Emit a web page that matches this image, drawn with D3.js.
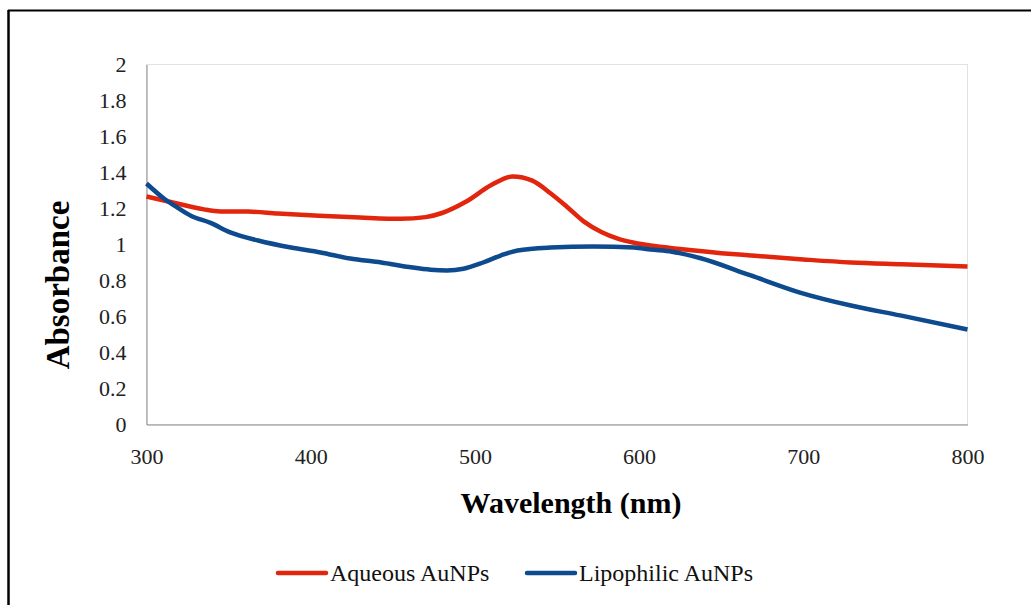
<!DOCTYPE html>
<html>
<head>
<meta charset="UTF-8">
<script src="https://d3js.org/d3.v7.min.js"></script>
<style>
  body { margin: 0; background: #fff; }
  svg { display: block; font-family: "Liberation Serif", "Times New Roman", serif; }
</style>
</head>
<body>
<svg width="1031" height="605"></svg>
<script>
// values
const yTicks = [0, 0.2, 0.4, 0.6, 0.8, 1, 1.2, 1.4, 1.6, 1.8, 2];
const xTicks = [300, 400, 500, 600, 700, 800];

const aqueousWl = [300, 320, 335, 345, 362, 380, 405, 430, 455, 470, 480, 495, 510, 523, 535, 546, 556, 566, 577, 587, 597, 607, 625, 650, 668, 700, 729, 760, 800];
const aqueousAbs = [1.267, 1.225, 1.195, 1.184, 1.183, 1.172, 1.16, 1.15, 1.143, 1.152, 1.175, 1.24, 1.33, 1.378, 1.355, 1.285, 1.21, 1.13, 1.07, 1.033, 1.01, 0.994, 0.975, 0.952, 0.939, 0.917, 0.9, 0.89, 0.878];

const lipoWl = [300, 310, 318, 327, 339, 351, 368, 388, 406, 424, 443, 460, 473, 483, 493, 505, 516, 526, 546, 572, 597, 607, 620, 637, 668, 698, 729, 759, 800];
const lipoAbs = [1.339, 1.26, 1.21, 1.16, 1.12, 1.067, 1.022, 0.983, 0.956, 0.922, 0.9, 0.875, 0.86, 0.856, 0.865, 0.9, 0.94, 0.967, 0.983, 0.989, 0.983, 0.972, 0.96, 0.925, 0.828, 0.733, 0.661, 0.606, 0.528];

const series = [
  {name: "Aqueous AuNPs", color: "#e2260e", x: aqueousWl, y: aqueousAbs},
  {name: "Lipophilic AuNPs", color: "#0e4a8e", x: lipoWl, y: lipoAbs}
];

const svg = d3.select("svg");

// outer frame
svg.append("line").attr("x1", 8).attr("x2", 1031).attr("y1", 10.5).attr("y2", 10.5)
  .attr("stroke", "#000").attr("stroke-width", 2);
svg.append("line").attr("x1", 8.5).attr("x2", 8.5).attr("y1", 10).attr("y2", 605)
  .attr("stroke", "#000").attr("stroke-width", 2.5);

const pLeft = 146.5, pRight = 967.5, pTop = 64.5, pBottom = 424.5;
const x = d3.scaleLinear().domain([300, 800]).range([pLeft, pRight]);
const y = d3.scaleLinear().domain([0, 2]).range([pBottom, pTop]);

// plot frame
svg.append("rect").attr("x", pLeft).attr("y", pTop)
  .attr("width", pRight - pLeft).attr("height", pBottom - pTop)
  .attr("fill", "none").attr("stroke", "#e2e2e2");

svg.append("g")
  .attr("transform", `translate(0,${pBottom})`)
  .call(d3.axisBottom(x).tickValues(xTicks).tickSize(0).tickPadding(24))
  .call(g => g.select(".domain").attr("stroke", "#8c8c8c"))
  .selectAll("text").attr("font-size", 22).attr("fill", "#222")
  .attr("font-family", "Liberation Serif");

svg.append("g")
  .attr("transform", `translate(${pLeft},0)`)
  .call(d3.axisLeft(y).tickValues(yTicks).tickSize(0).tickPadding(20).tickFormat(d3.format("")))
  .call(g => g.select(".domain").attr("stroke", "#8c8c8c"))
  .selectAll("text").attr("font-size", 22).attr("fill", "#222")
  .attr("font-family", "Liberation Serif");

const line = d3.line().curve(d3.curveMonotoneX)
  .x(d => x(d[0])).y(d => y(d[1]));

series.forEach(s => {
  svg.append("path")
    .datum(s.x.map((w, i) => [w, s.y[i]]))
    .attr("d", line)
    .attr("fill", "none")
    .attr("stroke", s.color)
    .attr("stroke-width", 4.5)
    .attr("stroke-linejoin", "round");
});

// axis titles
svg.append("text").attr("x", 571).attr("y", 513)
  .attr("text-anchor", "middle").attr("font-size", 30).attr("font-weight", "bold")
  .text("Wavelength (nm)");
svg.append("text").attr("transform", "translate(69,285) rotate(-90)")
  .attr("text-anchor", "middle").attr("font-size", 33).attr("font-weight", "bold")
  .text("Absorbance");

// legend
const legendX = [278, 527];
series.forEach((s, i) => {
  const g = svg.append("g").attr("transform", `translate(${legendX[i]},573)`);
  g.append("line").attr("x1", 0).attr("x2", 48).attr("y1", 0).attr("y2", 0)
    .attr("stroke", s.color).attr("stroke-width", 4.5).attr("stroke-linecap", "round");
  g.append("text").attr("x", 52).attr("y", 8).attr("font-size", 24).attr("fill", "#111")
    .text(s.name);
});
</script>
</body>
</html>
